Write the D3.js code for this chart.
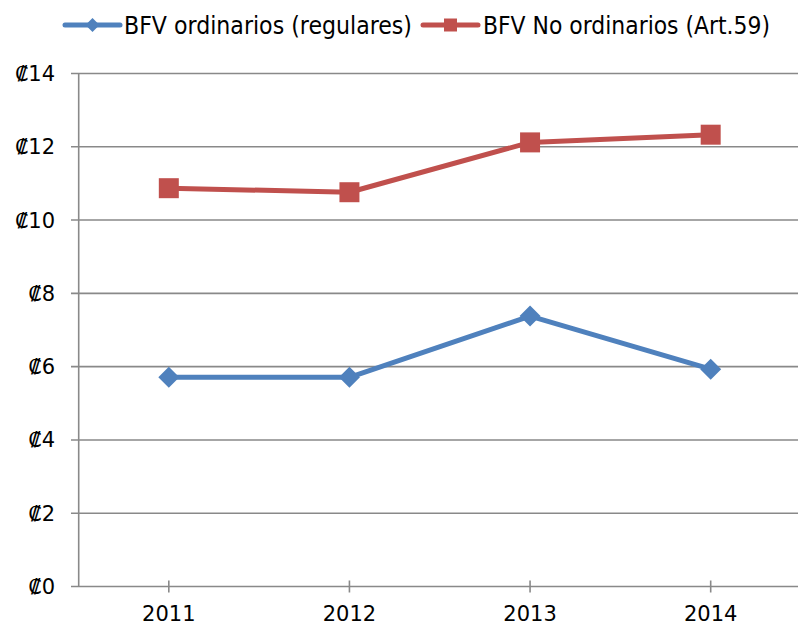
<!DOCTYPE html>
<html>
<head>
<meta charset="utf-8">
<script src="https://cdn.jsdelivr.net/npm/d3@7"></script>
<style>
  html, body { margin: 0; padding: 0; background: #fff; }
  svg { display: block; font-family: "DejaVu Sans", sans-serif; }
</style>
</head>
<body>
<svg id="chart" width="798" height="626"></svg>
<script>
const categories = ["2011", "2012", "2013", "2014"];
const seriesNames = ["BFV ordinarios (regulares)", "BFV No ordinarios (Art.59)"];
const ordinarios = [5.71, 5.71, 7.38, 5.93];
const noOrdinarios = [10.87, 10.76, 12.12, 12.33];
const yTicks = [0, 2, 4, 6, 8, 10, 12, 14];

const colors = ["#4F81BD", "#C0504D"];
const svg = d3.select("#chart");

const x = d3.scaleBand().domain(categories).range([78.5, 801]).padding(0);
const cx = d => x(d) + x.bandwidth() / 2;
const y = d3.scaleLinear().domain([0, 14]).range([586.5, 73.5]);

const gridColor = "#898989";

// gridlines
svg.append("g").selectAll("line").data(yTicks.filter(t => t > 0)).join("line")
  .attr("x1", 71).attr("x2", 798)
  .attr("y1", d => y(d)).attr("y2", d => y(d))
  .attr("stroke", gridColor).attr("stroke-width", 1.6);

// y axis line
svg.append("line").attr("x1", 78.7).attr("x2", 78.7).attr("y1", y(14)).attr("y2", y(0))
  .attr("stroke", gridColor).attr("stroke-width", 1.6);
// x axis line
svg.append("line").attr("x1", 71).attr("x2", 798).attr("y1", y(0)).attr("y2", y(0))
  .attr("stroke", gridColor).attr("stroke-width", 1.6);

// category ticks
svg.append("g").selectAll("line").data(categories).join("line")
  .attr("x1", d => cx(d)).attr("x2", d => cx(d))
  .attr("y1", y(0) - 6).attr("y2", y(0) + 6)
  .attr("stroke", gridColor).attr("stroke-width", 1.6);

// y labels
svg.append("g").selectAll("text").data(yTicks).join("text")
  .attr("x", 55).attr("y", d => y(d))
  .attr("dy", "0.36em")
  .attr("text-anchor", "end")
  .attr("font-size", 21).attr("fill", "#000")
  .text(d => "\u20A1" + d);

// x labels
svg.append("g").selectAll("text").data(categories).join("text")
  .attr("x", d => cx(d)).attr("y", 621)
  .attr("text-anchor", "middle")
  .attr("font-size", 21).attr("fill", "#000")
  .text(d => d);

const line = d3.line().x((d, i) => cx(categories[i])).y(d => y(d));

function drawSeries(values, color, shape) {
  const g = svg.append("g");
  g.append("path").datum(values).attr("d", line)
    .attr("fill", "none").attr("stroke", color).attr("stroke-width", 5)
    .attr("stroke-linejoin", "round");
  g.selectAll("path.m").data(values).join("path").attr("class", "m")
    .attr("transform", (d, i) => `translate(${cx(categories[i])},${y(d)})`)
    .attr("d", shape === "diamond" ? "M0,-10.5L10.5,0L0,10.5L-10.5,0Z" : "M-10,-10H10V10H-10Z")
    .attr("fill", color);
}
drawSeries(ordinarios, colors[0], "diamond");
drawSeries(noOrdinarios, colors[1], "square");

// legend
const legend = [
  { name: seriesNames[0], color: colors[0], shape: "diamond", x0: 65, x1: 120, tx: 124, tw: 288 },
  { name: seriesNames[1], color: colors[1], shape: "square", x0: 423, x1: 478, tx: 483, tw: 287 }
];
const ly = 25;
legend.forEach(l => {
  const g = svg.append("g");
  g.append("line").attr("x1", l.x0).attr("x2", l.x1).attr("y1", ly).attr("y2", ly)
    .attr("stroke", l.color).attr("stroke-width", 5).attr("stroke-linecap", "round");
  const mx = (l.x0 + l.x1) / 2;
  g.append("path").attr("transform", `translate(${mx},${ly})`)
    .attr("d", l.shape === "diamond" ? "M0,-7L7,0L0,7L-7,0Z" : "M-6.5,-6.5H6.5V6.5H-6.5Z")
    .attr("fill", l.color);
  g.append("text").attr("x", l.tx).attr("y", ly).attr("dy", "0.36em")
    .attr("font-size", 24).attr("fill", "#000")
    .attr("textLength", l.tw).attr("lengthAdjust", "spacingAndGlyphs")
    .text(l.name);
});
</script>
</body>
</html>
